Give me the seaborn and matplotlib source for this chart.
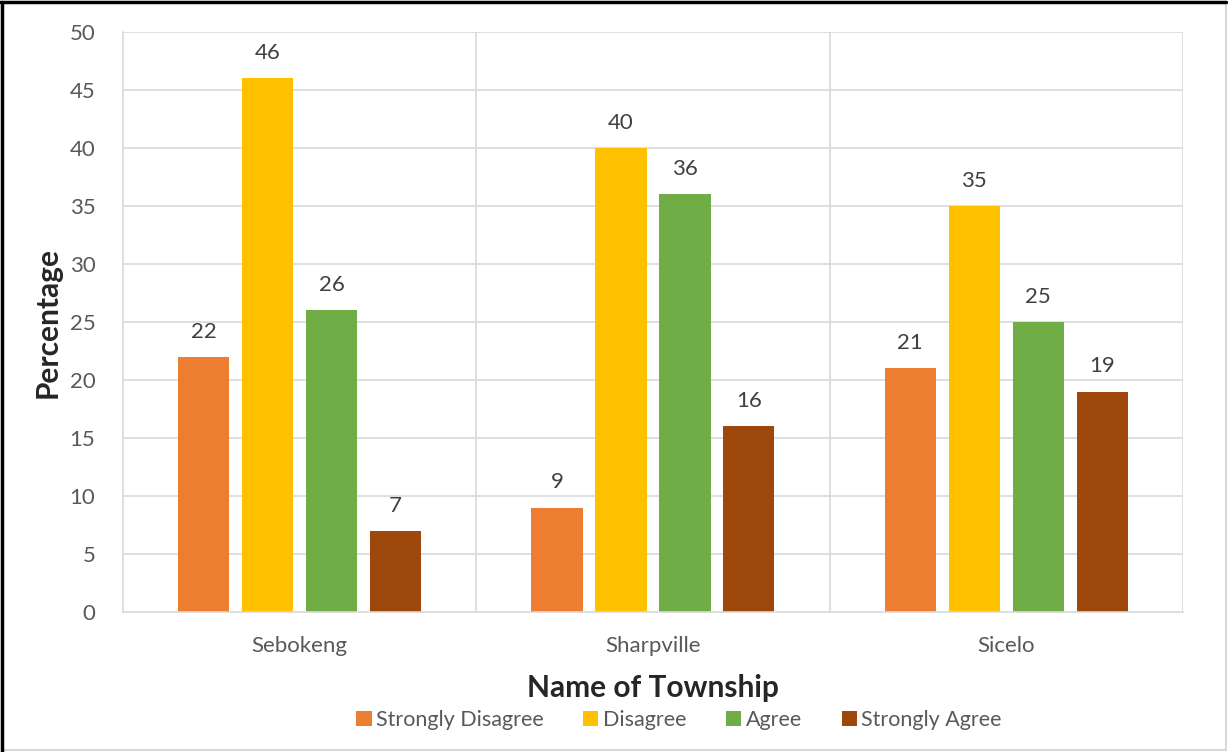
import matplotlib
matplotlib.use("Agg")
import matplotlib.pyplot as plt
import seaborn as sns
import pandas as pd
from matplotlib.patches import Rectangle

townships = ["Sebokeng", "Sharpville", "Sicelo"]
responses = ["Strongly Disagree", "Disagree", "Agree", "Strongly Agree"]
strongly_disagree = [22, 9, 21]
disagree = [46, 40, 35]
agree = [26, 36, 25]
strongly_agree = [7, 16, 19]
colors = ["#ED7D31", "#FFC000", "#70AD47", "#9E480E"]

rows = []
for resp, vals in zip(responses, [strongly_disagree, disagree, agree, strongly_agree]):
    for t, v in zip(townships, vals):
        rows.append({"Township": t, "Response": resp, "Percentage": v})
df = pd.DataFrame(rows)

sns.set_theme(style="white")
plt.rcParams["font.family"] = ["Lato", "DejaVu Sans"]

fig = plt.figure(figsize=(12.28, 7.52), dpi=100)
ax = fig.add_axes([0.1002, 0.1862, 0.8631, 0.7712])

sns.barplot(data=df, x="Township", y="Percentage", hue="Response",
            order=townships, hue_order=responses, palette=colors,
            width=0.724, gap=0.2, ax=ax, saturation=1, legend=True,
            linewidth=0, errorbar=None)

grid_c = "#D9D9D9"
ax.set_ylim(0, 50)
ax.set_xlim(-0.5, 2.5)
ax.set_yticks(range(0, 51, 5))
for y in range(5, 51, 5):
    ax.axhline(y, color=grid_c, lw=1.2, zorder=0)
for x in [0.5, 1.5, 2.5]:
    ax.axvline(x, color=grid_c, lw=1.2, zorder=0)
for side in ["top", "right"]:
    ax.spines[side].set_visible(False)
for side in ["left", "bottom"]:
    ax.spines[side].set_color(grid_c)
    ax.spines[side].set_linewidth(1.2)

ax.tick_params(axis="both", length=0, labelsize=16, labelcolor="#595959")
ax.tick_params(axis="y", pad=20)
ax.tick_params(axis="x", pad=17)

ax.set_ylabel("Percentage", fontsize=21.5, fontweight="bold", color="#262626", labelpad=6)
ax.set_xlabel("Name of Township", fontsize=21.5, fontweight="bold", color="#262626", labelpad=13)

for cont in ax.containers:
    ax.bar_label(cont, fmt="%d", padding=11, fontsize=16, color="#404040")

leg = ax.legend(loc="upper center", bbox_to_anchor=(0.5245, -0.136), ncol=4, frameon=False,
                fontsize=15.5, handlelength=0.7, handleheight=0.7, handletextpad=0.2,
                columnspacing=1.85, labelcolor="#595959")

# outer frame
fig.patches.append(Rectangle((0.002, 0.002), 0.996, 0.995, transform=fig.transFigure,
                             fill=False, edgecolor="#D9D9D9", lw=1.5))
fig.add_artist(plt.Line2D([0.002, 0.002], [0.0, 0.997], transform=fig.transFigure, color="black", lw=2.5))
fig.add_artist(plt.Line2D([0.0, 0.998], [0.997, 0.997], transform=fig.transFigure, color="black", lw=2.5))

fig.savefig("out.png", dpi=100)
